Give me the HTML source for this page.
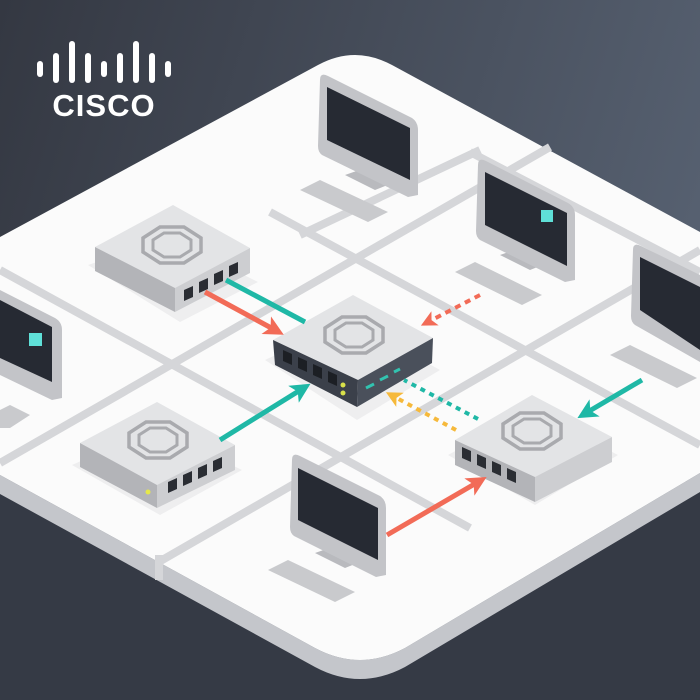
<!DOCTYPE html>
<html><head><style>html,body{margin:0;padding:0;width:700px;height:700px;overflow:hidden}</style></head>
<body>
<svg width="700" height="700" viewBox="0 0 700 700" xmlns="http://www.w3.org/2000/svg">
<defs>
<linearGradient id="bg" x1="0" y1="0" x2="1" y2="0.3">
<stop offset="0" stop-color="#343842"/><stop offset="1" stop-color="#566070"/>
</linearGradient>
<g id="oct" fill="none" stroke="#a9aaae">
<polygon points="-12,-18 12,-18 29,-7 29,7 12,18 -12,18 -29,7 -29,-7" stroke-width="3.5"/>
<polygon points="-8,-12 8,-12 19,-5 19,5 8,12 -8,12 -19,5 -19,-5" stroke-width="3"/>
</g>
<marker id="hr" markerWidth="4" markerHeight="4" refX="2" refY="2" orient="auto" markerUnits="strokeWidth"><path d="M0,0 L4,2 L0,4 L1,2z" fill="#f26b57"/></marker>
<marker id="ht" markerWidth="4" markerHeight="4" refX="2" refY="2" orient="auto" markerUnits="strokeWidth"><path d="M0,0 L4,2 L0,4 L1,2z" fill="#1fb8a6"/></marker>
<marker id="ho" markerWidth="4" markerHeight="4" refX="2" refY="2" orient="auto" markerUnits="strokeWidth"><path d="M0,0 L4,2 L0,4 L1,2z" fill="#f6b93b"/></marker>
</defs>
<rect width="700" height="700" fill="url(#bg)"/>
<!-- platform side -->
<path d="M0,475 L315,648 Q360,672 405,648 L700,473 L700,700 L0,700z" fill="#353a45"/>
<path d="M0,475 L315,648 Q360,672 405,648 L700,473 L700,492 L405,667 Q360,691 315,667 L0,494z" fill="#c4c6cb"/>
<!-- top face -->
<path d="M0,237 L318,65 Q355,45 392,65 L700,232 L700,473 L405,648 Q360,672 315,648 L0,475z" fill="#fbfbfb"/>
<!-- grid -->
<g stroke="#d5d6d9" stroke-width="8" fill="none">
<path d="M0,270 L470,528"/>
<path d="M270,212 L700,445"/>
<path d="M470,152 L700,272"/>
<path d="M0,463 L550,147"/>
<path d="M157,563 L700,250"/>
<path d="M300,235 L480,150"/>
<path d="M159,555 L159,580"/>
</g>
<!-- logo -->
<g stroke="#fff" stroke-width="6" stroke-linecap="round">
<line x1="40" y1="64" x2="40" y2="74"/><line x1="56" y1="56" x2="56" y2="80"/><line x1="72" y1="44" x2="72" y2="80"/><line x1="88" y1="56" x2="88" y2="80"/><line x1="104" y1="64" x2="104" y2="74"/><line x1="120" y1="56" x2="120" y2="80"/><line x1="136" y1="44" x2="136" y2="80"/><line x1="152" y1="56" x2="152" y2="80"/><line x1="168" y1="64" x2="168" y2="74"/>
</g>
<text x="104" y="116" font-family="Liberation Sans, sans-serif" font-size="31" font-weight="bold" fill="#fff" text-anchor="middle" letter-spacing="1">CISCO</text>

<!-- top monitor -->
<path d="M300,190 L320,180 L388,212 L368,222z" fill="#c9cacd"/>
<path d="M345,175 L365,168 L395,182 L375,190z" fill="#b9babe"/>
<path d="M320,80 Q320,72 328,76 L412,118 Q418,122 418,130 L418,195 L408,197 L322,155 Q318,152 318,146z" fill="#c3c4c8"/>
<path d="M327,87 L410,128 L410,180 L327,140z" fill="#262a33"/>
<!-- monitor 2 -->
<path d="M455,272 L475,262 L542,295 L522,305z" fill="#c9cacd"/>
<path d="M500,255 L520,248 L550,262 L530,270z" fill="#b9babe"/>
<path d="M478,165 Q478,157 486,161 L568,203 Q575,207 575,215 L575,280 L565,282 L480,240 Q476,237 476,231z" fill="#c3c4c8"/>
<path d="M485,172 L567,213 L567,266 L485,225z" fill="#262a33"/>
<rect x="541" y="210" width="12" height="12" fill="#5fe0d8"/>
<!-- monitor 3 -->
<path d="M610,355 L630,345 L697,378 L677,388z" fill="#c9cacd"/>
<path d="M633,250 Q633,242 641,246 L700,275 L700,362 L635,325 Q631,322 631,316z" fill="#c3c4c8"/>
<path d="M640,257 L700,287 L700,350 L640,310z" fill="#262a33"/>
<!-- left monitor -->
<path d="M0,410 L10,405 L30,415 L10,428 L0,428z" fill="#c9cacd"/>
<path d="M0,290 L55,318 Q62,322 62,330 L62,398 L52,400 L0,375z" fill="#c3c4c8"/>
<path d="M0,300 L52,327 L52,382 L0,358z" fill="#262a33"/>
<rect x="29" y="333" width="13" height="13" fill="#5fe0d8"/>
<!-- bottom monitor -->
<path d="M268,570 L288,560 L355,592 L335,602z" fill="#c9cacd"/>
<path d="M315,553 L335,546 L365,560 L345,568z" fill="#b9babe"/>
<path d="M292,460 Q292,452 300,456 L380,496 Q386,500 386,508 L386,575 L376,577 L294,536 Q290,533 290,527z" fill="#c3c4c8"/>
<path d="M298,468 L378,508 L378,560 L298,520z" fill="#262a33"/>

<!-- switch top-left -->
<path d="M88,265 L180,322 L258,282 L170,238z" fill="#eeeeef"/>
<path d="M95,247 L173,205 L250,248 L175,288z" fill="#e3e4e6"/>
<path d="M95,247 L175,288 L175,312 L95,271z" fill="#b3b4b8"/>
<path d="M175,288 L250,248 L250,273 L175,312z" fill="#cdced1"/>
<use href="#oct" transform="translate(172,245)"/>
<g fill="#2a2d33"><path d="M184,290 l9,-4 v11 l-9,4z"/><path d="M199,282 l9,-4 v11 l-9,4z"/><path d="M214,274 l9,-4 v11 l-9,4z"/><path d="M229,266 l9,-4 v11 l-9,4z"/></g>
<!-- switch bottom-left -->
<path d="M72,465 L160,515 L242,470 L155,428z" fill="#eeeeef"/>
<path d="M80,443 L157,402 L235,445 L157,485z" fill="#e3e4e6"/>
<path d="M80,443 L157,485 L157,508 L80,467z" fill="#b3b4b8"/>
<path d="M157,485 L235,445 L235,470 L157,508z" fill="#cdced1"/>
<use href="#oct" transform="translate(158,440)"/>
<g fill="#2a2d33"><path d="M168,482 l9,-4 v11 l-9,4z"/><path d="M183,475 l9,-4 v11 l-9,4z"/><path d="M198,468 l9,-4 v11 l-9,4z"/><path d="M213,461 l9,-4 v11 l-9,4z"/></g>
<circle cx="148" cy="492" r="2.5" fill="#e6e84a"/>
<!-- switch right -->
<path d="M448,455 L535,505 L618,455 L530,410z" fill="#eeeeef"/>
<path d="M455,440 L532,395 L612,437 L535,477z" fill="#e3e4e6"/>
<path d="M455,440 L535,477 L535,502 L455,465z" fill="#b3b4b8"/>
<path d="M535,477 L612,437 L612,462 L535,502z" fill="#cdced1"/>
<use href="#oct" transform="translate(532,431)"/>
<g fill="#2a2d33"><path d="M462,447 l9,4 v11 l-9,-4z"/><path d="M477,454 l9,4 v11 l-9,-4z"/><path d="M492,461 l9,4 v11 l-9,-4z"/><path d="M507,468 l9,4 v11 l-9,-4z"/></g>
<!-- center switch -->
<path d="M265,360 L357,420 L440,370 L350,320z" fill="#eeeeef"/>
<path d="M273,340 L353,295 L433,338 L358,380z" fill="#e3e4e6"/>
<path d="M273,340 L358,380 L357,407 L275,365z" fill="#3b404a"/>
<path d="M358,380 L433,338 L432,363 L357,407z" fill="#4a505b"/>
<use href="#oct" transform="translate(354,335)"/>
<g fill="#1c1f24"><path d="M283,350 l9,4 v11 l-9,-4z"/><path d="M298,357 l9,4 v11 l-9,-4z"/><path d="M313,364 l9,4 v11 l-9,-4z"/><path d="M328,371 l9,4 v11 l-9,-4z"/></g>
<circle cx="343" cy="385" r="2.5" fill="#d8e04a"/><circle cx="343" cy="393" r="2.5" fill="#d8e04a"/>
<g stroke="#32c3b0" stroke-width="3"><line x1="366" y1="388" x2="374" y2="384"/><line x1="380" y1="380" x2="388" y2="376"/><line x1="394" y1="372" x2="400" y2="369"/></g>

<!-- arrows -->
<line x1="226" y1="280" x2="305" y2="322" stroke="#1fb8a6" stroke-width="5"/>
<line x1="205" y1="292" x2="275" y2="330" stroke="#f26b57" stroke-width="5" marker-end="url(#hr)"/>
<line x1="480" y1="295" x2="428" y2="322" stroke="#f26b57" stroke-width="4" stroke-dasharray="6,5" marker-end="url(#hr)"/>
<line x1="220" y1="440" x2="302" y2="389" stroke="#1fb8a6" stroke-width="5" marker-end="url(#ht)"/>
<line x1="478" y1="419" x2="404" y2="380" stroke="#1fb8a6" stroke-width="4" stroke-dasharray="5,5"/>
<line x1="456" y1="430" x2="393" y2="396" stroke="#f6b93b" stroke-width="4" stroke-dasharray="5,5" marker-end="url(#ho)"/>
<line x1="642" y1="380" x2="586" y2="413" stroke="#1fb8a6" stroke-width="5" marker-end="url(#ht)"/>
<line x1="387" y1="535" x2="478" y2="482" stroke="#f26b57" stroke-width="5" marker-end="url(#hr)"/>
</svg>
</body></html>
